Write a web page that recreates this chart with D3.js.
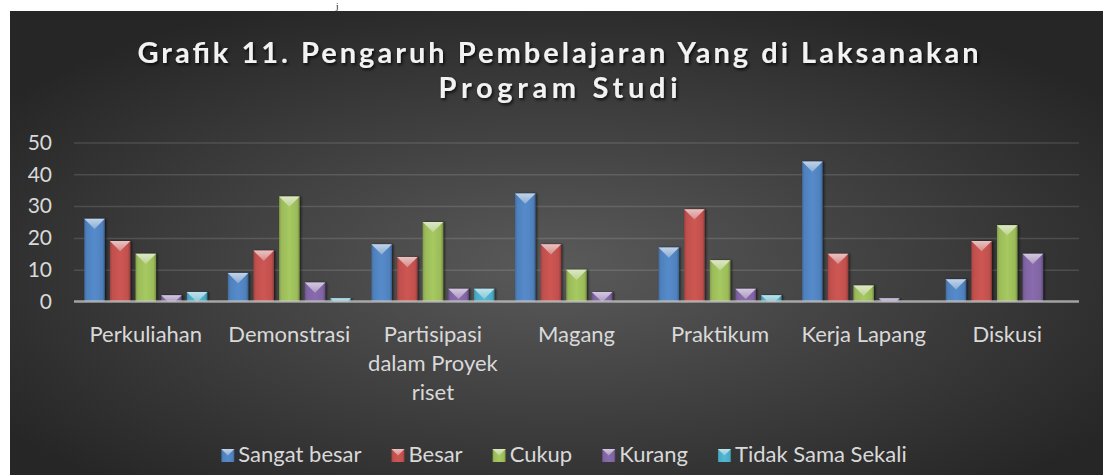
<!DOCTYPE html>
<html>
<head>
<meta charset="utf-8">
<script src="https://cdn.jsdelivr.net/npm/d3@7"></script>
<style>
  body { margin: 0; background: #fff; }
  svg { display: block; }
  text { font-family: Lato, "Open Sans", sans-serif; }
</style>
</head>
<body>
<div id="chart"></div>
<script>
// Data
const categories = ["Perkuliahan", "Demonstrasi", "Partisipasi dalam Proyek riset", "Magang", "Praktikum", "Kerja Lapang", "Diskusi"];
const seriesNames = ["Sangat besar", "Besar", "Cukup", "Kurang", "Tidak Sama Sekali"];
const sangatBesar = [26, 9, 18, 34, 17, 44, 7];
const besar = [19, 16, 14, 18, 29, 15, 19];
const cukup = [15, 33, 25, 10, 13, 5, 24];
const kurang = [2, 6, 4, 3, 4, 1, 15];
const tidakSamaSekali = [3, 1, 4, 0, 2, 0, 0];
const yTicks = [0, 10, 20, 30, 40, 50];
const colors = ["#4f81bd", "#c0504d", "#9bbb59", "#8064a2", "#4bacc6"];

const seriesValues = [sangatBesar, besar, cukup, kurang, tidakSamaSekali];

const W = 1103, H = 475;
const plot = {left: 74, right: 1079, top: 142.5, bottom: 301.5};

const svg = d3.select("#chart")
    .append("svg")
    .attr("width", W)
    .attr("height", H);

const defs = svg.append("defs");

// Background radial gradient
const bg = defs.append("radialGradient")
    .attr("id", "bg")
    .attr("cx", "50%").attr("cy", "55%").attr("r", "62%");
bg.append("stop").attr("offset", "0%").attr("stop-color", "#5a5a5a");
bg.append("stop").attr("offset", "100%").attr("stop-color", "#262626");

// Title shadow
const shadow = defs.append("filter").attr("id", "shadow")
    .attr("x", "-10%").attr("y", "-30%").attr("width", "120%").attr("height", "160%");
shadow.append("feDropShadow")
    .attr("dx", 1.5).attr("dy", 2).attr("stdDeviation", 1.5)
    .attr("flood-color", "#000").attr("flood-opacity", 0.75);

// Bar shadow
const barShadow = defs.append("filter").attr("id", "barShadow")
    .attr("x", "-20%").attr("y", "-10%").attr("width", "150%").attr("height", "120%");
barShadow.append("feDropShadow")
    .attr("dx", 1.5).attr("dy", 0).attr("stdDeviation", 1)
    .attr("flood-color", "#000").attr("flood-opacity", 0.6);

// Bevel gradients per series
colors.forEach((c, i) => {
    const g = defs.append("linearGradient").attr("id", "bar" + i)
        .attr("x1", "0%").attr("x2", "100%").attr("y1", "0%").attr("y2", "0%");
    const base = d3.color(c);
    g.append("stop").attr("offset", "0%").attr("stop-color", base.darker(0.5));
    g.append("stop").attr("offset", "12%").attr("stop-color", base);
    g.append("stop").attr("offset", "50%").attr("stop-color", base.brighter(0.2));
    g.append("stop").attr("offset", "88%").attr("stop-color", base);
    g.append("stop").attr("offset", "100%").attr("stop-color", base.darker(0.8));

    const t = defs.append("linearGradient").attr("id", "top" + i)
        .attr("x1", "0%").attr("x2", "0%").attr("y1", "0%").attr("y2", "100%");
    t.append("stop").attr("offset", "0%").attr("stop-color", d3.interpolateRgb(c, "#fff")(0.65));
    t.append("stop").attr("offset", "100%").attr("stop-color", d3.interpolateRgb(c, "#fff")(0.35));
});

// Chart area
svg.append("rect")
    .attr("x", 10).attr("y", 11)
    .attr("width", W - 10).attr("height", H - 11)
    .attr("fill", "url(#bg)");

// Fragment of text above the chart
svg.append("text")
    .attr("x", 336).attr("y", 8.5)
    .style("font-family", "'Liberation Serif', serif")
    .style("font-size", "9px")
    .attr("fill", "#000")
    .text("j");

// Title
const titleLines = ["Grafik 11. Pengaruh Pembelajaran Yang di Laksanakan", "Program Studi"];
const titleWidths = [841, 239];
svg.append("g")
    .attr("filter", "url(#shadow)")
    .selectAll("text")
    .data(titleLines)
    .enter()
    .append("text")
    .attr("x", 558)
    .attr("y", (d, i) => 63 + i * 35)
    .attr("text-anchor", "middle")
    .attr("textLength", (d, i) => titleWidths[i])
    .attr("lengthAdjust", "spacing")
    .attr("fill", "#f2f2f2")
    .style("font-size", "29px")
    .style("font-weight", "bold")
    .text(d => d);

// Scales
const y = d3.scaleLinear()
    .domain([0, 50])
    .range([plot.bottom, plot.top]);

const x0 = d3.scaleBand()
    .domain(categories)
    .range([plot.left, plot.right])
    .paddingInner(0.143)
    .paddingOuter(0.0715);

const x1 = d3.scaleBand()
    .domain(d3.range(seriesNames.length))
    .range([0, x0.bandwidth()])
    .paddingInner(0.2);

// Y axis with gridlines
const yAxis = d3.axisLeft(y)
    .tickValues(yTicks)
    .tickSize(-(plot.right - plot.left))
    .tickPadding(22);

const yG = svg.append("g")
    .attr("transform", `translate(${plot.left},0)`)
    .call(yAxis);
yG.select(".domain").remove();
yG.selectAll(".tick line")
    .attr("stroke", "#ffffff")
    .attr("stroke-opacity", d => d === 0 ? 0 : 0.13)
    .attr("stroke-width", 1.5);
yG.selectAll(".tick text")
    .attr("fill", "#d9d9d9")
    .style("font-size", "21px")
    .style("font-family", "Lato, 'Open Sans', sans-serif");

// Bars
const groups = svg.append("g")
    .selectAll("g")
    .data(categories)
    .enter()
    .append("g")
    .attr("transform", d => `translate(${x0(d)},0)`);

groups.each(function(cat, ci) {
    const g = d3.select(this);
    const items = seriesValues.map((vals, si) => ({si: si, v: vals[ci]})).filter(d => d.v > 0);
    const bar = g.selectAll("g.bar")
        .data(items)
        .enter()
        .append("g")
        .attr("class", "bar");
    bar.append("rect")
        .attr("x", d => x1(d.si))
        .attr("y", d => y(d.v))
        .attr("width", x1.bandwidth())
        .attr("height", d => y(0) - y(d.v))
        .attr("fill", d => `url(#bar${d.si})`)
        .attr("filter", "url(#barShadow)");
    bar.append("polygon")
        .attr("points", d => {
            const bx = x1(d.si), by = y(d.v), w = x1.bandwidth();
            const h = y(0) - y(d.v);
            const k = Math.min(w / 2, h);
            return [[bx, by], [bx + w, by], [bx + w - k, by + k], [bx + k, by + k]].join(" ");
        })
        .attr("fill", d => `url(#top${d.si})`);
});

// Baseline
svg.append("line")
    .attr("x1", plot.left).attr("x2", plot.right)
    .attr("y1", y(0)).attr("y2", y(0))
    .attr("stroke", "#c8c8c8")
    .attr("stroke-opacity", 0.75)
    .attr("stroke-width", 2.5);

// Category labels with wrapping
const maxLabel = x0.step() - 4;
const catLabels = svg.append("g")
    .selectAll("text")
    .data(categories)
    .enter()
    .append("text")
    .attr("x", d => x0(d) + x0.bandwidth() / 2)
    .attr("y", 342)
    .attr("text-anchor", "middle")
    .attr("fill", "#d9d9d9")
    .style("font-size", "22px");

catLabels.each(function(d) {
    const t = d3.select(this);
    const words = d.split(" ");
    let line = [];
    let tspan = t.append("tspan").attr("x", t.attr("x")).attr("dy", 0);
    words.forEach(w => {
        line.push(w);
        tspan.text(line.join(" "));
        if (tspan.node().getComputedTextLength() > maxLabel && line.length > 1) {
            line.pop();
            tspan.text(line.join(" "));
            line = [w];
            tspan = t.append("tspan").attr("x", t.attr("x")).attr("dy", 29).text(w);
        }
    });
});

// Legend
const legend = svg.append("g");
const legendItems = legend.selectAll("g")
    .data(seriesNames)
    .enter()
    .append("g");

legendItems.append("rect")
    .attr("width", 13).attr("height", 13)
    .attr("y", 449)
    .attr("fill", (d, i) => `url(#bar${i})`);
legendItems.append("polygon")
    .attr("points", "0,449 13,449 6.5,455.5")
    .attr("fill", (d, i) => `url(#top${i})`);
legendItems.append("text")
    .attr("x", 17)
    .attr("y", 462)
    .attr("fill", "#d9d9d9")
    .style("font-size", "22px")
    .text(d => d);

let lx = 0;
const offsets = [];
legendItems.each(function() {
    offsets.push(lx);
    lx += 17 + d3.select(this).select("text").node().getComputedTextLength() + 30;
});
const totalW = lx - 30;
const startX = 564 - totalW / 2;
legendItems.attr("transform", (d, i) => `translate(${startX + offsets[i]},0)`);
</script>
</body>
</html>
